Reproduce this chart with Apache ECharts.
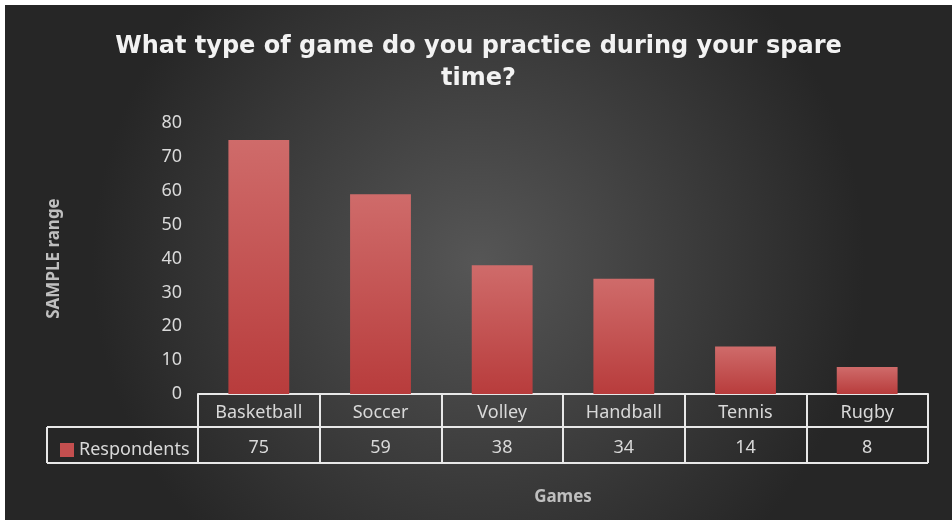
<!DOCTYPE html>
<html>
<head>
<meta charset="utf-8">
<script src="https://cdn.jsdelivr.net/npm/echarts@6/dist/echarts.min.js"></script>
<style>
  html, body { margin: 0; padding: 0; background: #ffffff; }
  #wrap { position: absolute; left: 5px; top: 5px; width: 947px; height: 515px; }
  #chart { width: 947px; height: 515px; }
</style>
</head>
<body>
<div id="wrap"><div id="chart"></div></div>
<script>
const titleText = 'What type of game do you practice during your spare\ntime?';
const categories = ['Basketball', 'Soccer', 'Volley', 'Handball', 'Tennis', 'Rugby'];
const seriesName = 'Respondents';
const values = [75, 59, 38, 34, 14, 8];
const yTicks = { min: 0, max: 80, interval: 10 };
const yTitle = 'SAMPLE range';
const xTitle = 'Games';

const chart = echarts.init(document.getElementById('chart'), null, { renderer: 'canvas' });
const txt = '#d9d9d9';
const lineCol = '#e8e8e8';
const font = 'Noto Sans';

const option = {
  backgroundColor: {
    type: 'radial', x: 0.5, y: 0.5, r: 0.75,
    colorStops: [
      { offset: 0, color: '#565656' },
      { offset: 1, color: '#262626' }
    ]
  },
  animation: false,
  title: {
    text: titleText,
    left: 'center',
    top: 21,
    textStyle: {
      color: '#f2f2f2', fontFamily: 'DejaVu Sans', fontWeight: 'bold',
      fontSize: 24, lineHeight: 32
    }
  },
  legend: {
    data: [{ name: seriesName, itemStyle: { color: '#c44f4f' } }],
    left: 50, top: 431,
    icon: 'rect', itemWidth: 14, itemHeight: 14, itemGap: 6,
    textStyle: { color: txt, fontSize: 18, fontFamily: font }
  },
  grid: { left: 193, right: 24, top: 118, bottom: 126, containLabel: false },
  xAxis: {
    type: 'category',
    data: categories,
    boundaryGap: true,
    axisLine: { show: true, lineStyle: { color: lineCol, width: 2 } },
    axisTick: { show: true, length: 69, lineStyle: { color: lineCol, width: 2 } },
    axisLabel: {
      margin: 0,
      formatter: function (v, i) { return '{a|' + v + '}\n{b|' + values[i] + '}'; },
      rich: {
        a: { color: txt, fontSize: 18, fontFamily: font, lineHeight: 36, padding: [2, 0, 0, 0] },
        b: { color: txt, fontSize: 18, fontFamily: font, lineHeight: 36 }
      }
    },
    name: xTitle,
    nameLocation: 'middle',
    nameGap: 95,
    nameTextStyle: { color: '#bfbfbf', fontSize: 17, fontWeight: 'bold', fontFamily: font }
  },
  yAxis: {
    type: 'value',
    min: yTicks.min, max: yTicks.max, interval: yTicks.interval,
    axisLine: { show: false },
    axisTick: { show: false },
    splitLine: { show: false },
    axisLabel: { color: txt, fontSize: 18, fontFamily: font, margin: 16 },
    name: yTitle,
    nameLocation: 'middle',
    nameGap: 135,
    nameRotate: 90,
    nameTextStyle: { color: '#bfbfbf', fontSize: 17, fontWeight: 'bold', fontFamily: font }
  },
  series: [{
    name: seriesName,
    type: 'bar',
    data: values,
    barWidth: '50%',
    itemStyle: {
      color: {
        type: 'linear', x: 0, y: 0, x2: 0, y2: 1,
        colorStops: [
          { offset: 0, color: '#cf6b6a' },
          { offset: 1, color: '#b83c3c' }
        ]
      }
    }
  }],
  graphic: []
};
chart.setOption(option);

// table lines based on grid extents
const gridRect = chart.getModel().getComponent('grid', 0).coordinateSystem.getRect();
const right = gridRect.x + gridRect.width, axisY = gridRect.y + gridRect.height;
const row1 = axisY + 33, row2 = axisY + 69, legendLeft = 42;
chart.setOption({
  graphic: [
    { type: 'line', shape: { x1: legendLeft, y1: row1, x2: right, y2: row1 }, style: { stroke: lineCol, lineWidth: 2 } },
    { type: 'line', shape: { x1: legendLeft, y1: row2, x2: right, y2: row2 }, style: { stroke: lineCol, lineWidth: 2 } },
    { type: 'line', shape: { x1: legendLeft, y1: row1, x2: legendLeft, y2: row2 }, style: { stroke: lineCol, lineWidth: 2 } }
  ]
});
</script>
</body>
</html>
